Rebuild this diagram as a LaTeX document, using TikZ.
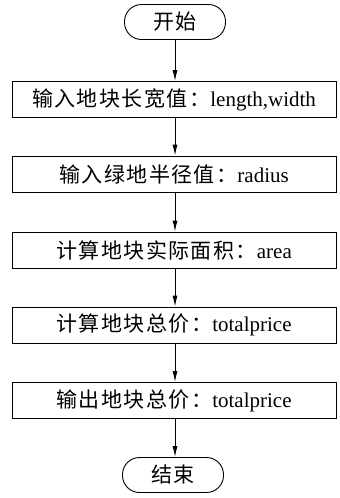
\documentclass[tikz,border=0pt]{standalone}
\usepackage{fontspec}
\setmainfont{Liberation Serif}
\newfontfamily\cjk[LetterSpace=7]{Noto Sans CJK SC}
\usetikzlibrary{arrows.meta}
\begin{document}
\begin{tikzpicture}[x=1pt,y=1pt,
  every node/.style={font=\fontsize{21}{25}\selectfont},
  procbox/.style={draw,line width=0.9pt,minimum width=324pt,minimum height=36pt,inner sep=0pt},
  termbox/.style={draw,line width=0.9pt,minimum width=101pt,minimum height=35pt,rounded corners=17pt,inner sep=0pt},
  flow/.style={line width=0.9pt,-{Latex[length=11pt,width=5pt]}}]
\useasboundingbox (0,0) rectangle (340,-498);
\node[termbox] (s) at (175,-22) {\cjk 开始};
\node[procbox] (b1) at (174,-99.5) {\cjk 输入地块长宽值：\normalfont length,width};
\node[procbox] (b2) at (174,-174) {\cjk 输入绿地半径值：\normalfont radius};
\node[procbox] (b3) at (174,-250) {\cjk 计算地块实际面积：\normalfont area};
\node[procbox] (b4) at (174,-325) {\cjk 计算地块总价：\normalfont totalprice};
\node[procbox] (b5) at (174,-400.5) {\cjk 输出地块总价：\normalfont totalprice};
\node[termbox] (e) at (173,-475) {\cjk 结束};
\draw[flow] (s.south -| 175,0) -- (b1.north -| 175,0);
\draw[flow] (b1.south -| 175,0) -- (b2.north -| 175,0);
\draw[flow] (b2.south -| 175,0) -- (b3.north -| 175,0);
\draw[flow] (b3.south -| 175,0) -- (b4.north -| 175,0);
\draw[flow] (b4.south -| 175,0) -- (b5.north -| 175,0);
\draw[flow] (b5.south -| 175,0) -- (e.north -| 175,0);
\end{tikzpicture}
\end{document}
